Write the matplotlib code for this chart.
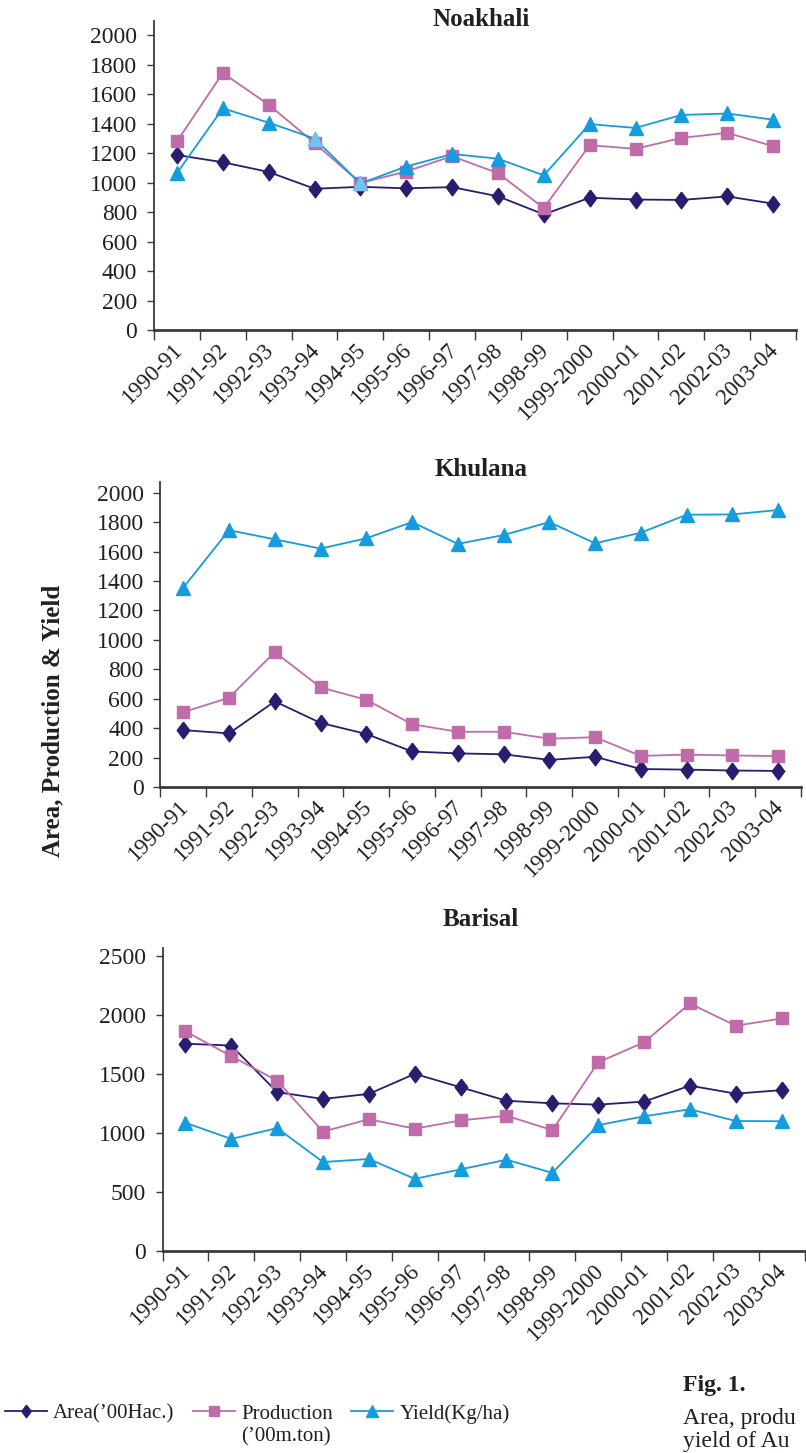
import numpy as np
import matplotlib.pyplot as plt
import matplotlib.transforms as mtransforms
from matplotlib.lines import Line2D

plt.rcParams['font.family'] = ['Liberation Serif', 'DejaVu Serif']
plt.rcParams['text.color'] = '#231f20'

seasons = ['1990-91', '1991-92', '1992-93', '1993-94', '1994-95', '1995-96',
           '1996-97', '1997-98', '1998-99', '1999-2000', '2000-01', '2001-02',
           '2002-03', '2003-04']

# Noakhali
noakhali_area = [1188, 1139, 1073, 959, 972, 962, 970, 908, 785, 898, 886, 883, 907, 858]
noakhali_prod = [1280, 1745, 1530, 1270, 998, 1076, 1180, 1065, 828, 1255, 1230, 1304, 1339, 1248]
noakhali_yield = [1065, 1505, 1408, 1300, 995, 1110, 1195, 1163, 1050, 1398, 1372, 1460, 1470, 1428]

# Khulana
khulana_area = [388, 366, 583, 437, 362, 243, 230, 224, 186, 207, 124, 120, 114, 111]
khulana_prod = [510, 608, 918, 678, 594, 428, 377, 377, 330, 340, 213, 222, 216, 212]
khulana_yield = [1355, 1745, 1683, 1620, 1690, 1800, 1652, 1712, 1800, 1656, 1728, 1850, 1852, 1882]

# Barisal
barisal_area = [1756, 1740, 1345, 1287, 1330, 1500, 1386, 1272, 1250, 1239, 1265, 1400, 1332, 1362]
barisal_prod = [1860, 1650, 1442, 1010, 1115, 1035, 1105, 1145, 1022, 1598, 1768, 2097, 1908, 1970]
barisal_yield = [1085, 948, 1040, 752, 778, 610, 690, 772, 660, 1065, 1140, 1200, 1100, 1098]

AREA_C = '#2a1c6e'
PROD_C = '#c06ca9'
YIELD_C = '#159cdf'
LIGHT_YIELD_C = '#72c3ee'
AXIS_C = '#3a3a3a'

diamond = [(0, 1), (0.75, 0), (0, -1), (-0.75, 0), (0, 1)]

fig = plt.figure(figsize=(8.06, 14.53), dpi=100)
W, H = 806, 1453


def draw_panel(left, right, zero_y, top_y, ytop, ystep, ymax, title, title_y,
               area, prod, yld, light_pts=()):
    rect = [left / W, 1 - zero_y / H, (right - left) / W, (zero_y - top_y) / H]
    ax = fig.add_axes(rect)
    x = np.arange(len(seasons))
    ax.plot(x, area, color=AREA_C, lw=1.3, marker=diamond, ms=12,
            mec=AREA_C, zorder=3, clip_on=False)
    ax.plot(x, prod, color=PROD_C, lw=1.3, marker='s', ms=8.5,
            mec=PROD_C, zorder=3, clip_on=False)
    ax.plot(x, yld, color=YIELD_C, lw=1.3, marker='^', ms=10,
            mec=YIELD_C, zorder=4, clip_on=False)
    for i in light_pts:
        ax.plot(x[i], yld[i], ls='none', marker='^', ms=10, color=LIGHT_YIELD_C,
                mec=LIGHT_YIELD_C, zorder=5, clip_on=False)

    ax.set_xlim(-0.5, len(seasons) - 0.5)
    ax.set_ylim(0, ytop)
    ax.set_yticks(np.arange(0, ymax + 1, ystep))
    ax.tick_params(axis='y', direction='out', length=5, width=1, color=AXIS_C,
                   pad=7, labelsize=17, labelcolor='#231f20')

    ax.set_xticks(x)
    ax.set_xticklabels(seasons, rotation=45, ha='right', va='top')
    ax.set_xticks(np.arange(-0.5, len(seasons)), minor=True)
    ax.tick_params(axis='x', which='major', length=0, pad=7, labelsize=16.5,
                   labelcolor='#231f20')
    ax.tick_params(axis='x', which='minor', direction='out', length=7,
                   width=1, color=AXIS_C)
    shift = mtransforms.ScaledTranslation(0.09, 0, fig.dpi_scale_trans)
    for lab in ax.get_xticklabels():
        lab.set_transform(lab.get_transform() + shift)

    for side in ('top', 'right'):
        ax.spines[side].set_visible(False)
    ax.spines['left'].set_color(AXIS_C)
    ax.spines['left'].set_linewidth(1.3)
    ax.spines['bottom'].set_color(AXIS_C)
    ax.spines['bottom'].set_linewidth(2)
    ax.patch.set_visible(False)

    fig.text(481 / W, 1 - title_y / H, title, ha='center', va='baseline',
             fontsize=18, fontweight='bold')
    return ax


draw_panel(154, 796, 330, 20.7, 2100, 200, 2000, 'Noakhali', 26,
           noakhali_area, noakhali_prod, noakhali_yield, light_pts=(3, 4))
draw_panel(160.4, 801, 787.3, 482.3, 2070, 200, 2000, 'Khulana', 476,
           khulana_area, khulana_prod, khulana_yield)
draw_panel(162.5, 804.6, 1250.7, 948.3, 2565, 500, 2500, 'Barisal', 926.5,
           barisal_area, barisal_prod, barisal_yield)

fig.text(53 / W, 1 - 721 / H, 'Area, Production & Yield', rotation=90,
         ha='center', va='center', fontsize=18, fontweight='bold')

handles = [
    Line2D([], [], color=AREA_C, lw=1.3, marker=diamond, ms=9, mec=AREA_C),
    Line2D([], [], color=PROD_C, lw=1.3, marker='s', ms=7, mec=PROD_C),
    Line2D([], [], color=YIELD_C, lw=1.3, marker='^', ms=8, mec=YIELD_C),
]
labels = ['Area(\u201900Hac.)', 'Production', 'Yield(Kg/ha)']
leg = fig.legend(handles, labels, loc='upper left',
                 bbox_to_anchor=(5 / W, 1 - 1404 / H), ncol=3, frameon=False,
                 fontsize=15, handlelength=2.0, handletextpad=0.3,
                 columnspacing=0.9, borderpad=0, borderaxespad=0)

# second line of the production label, placed under the legend entry
fig.canvas.draw()
bb = leg.get_texts()[1].get_window_extent()
fig.text(bb.x0, bb.y0 - 3, '(\u201900m.ton)', fontsize=15, ha='left', va='top',
         transform=mtransforms.IdentityTransform())

# caption block at the lower right, running off the page edge
fig.text(683 / W, 1 - 1391 / H, 'Fig. 1.', fontsize=17, fontweight='bold',
         va='baseline')
fig.text(683 / W, 1 - 1424 / H, 'Area, produ', fontsize=17, va='baseline')
fig.text(683 / W, 1 - 1447 / H, 'yield of Au', fontsize=17, va='baseline')

fig.savefig('out.png', dpi=100)
